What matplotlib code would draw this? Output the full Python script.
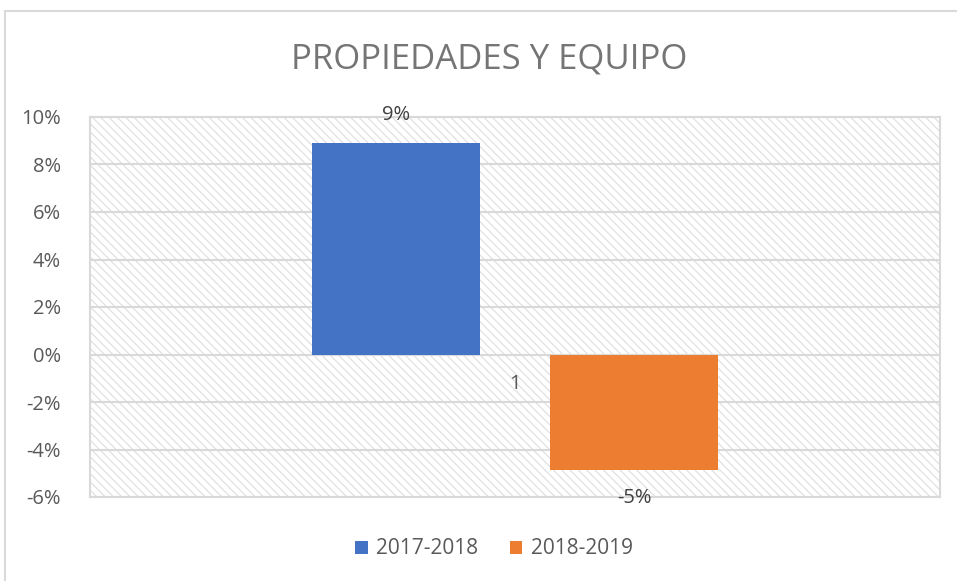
import matplotlib
matplotlib.use("Agg")
import matplotlib.pyplot as plt
from matplotlib.patches import Rectangle
from matplotlib.ticker import FuncFormatter, MultipleLocator

title = "PROPIEDADES Y EQUIPO"
category = "1"
series_names = ["2017-2018", "2018-2019"]
values = [0.089, -0.0487]
value_labels = ["9%", "-5%"]
colors = ["#4472C4", "#ED7D31"]

plt.rcParams['font.family'] = ['Open Sans', 'DejaVu Sans']
plt.rcParams['hatch.linewidth'] = 0.8
plt.rcParams['hatch.color'] = '#dedede'

fig = plt.figure(figsize=(9.57, 5.81), dpi=100)
# outer chart border
fig.patches.append(Rectangle((5/957, -0.01), 1.0, (581-11)/581 + 0.01, transform=fig.transFigure,
                             fill=False, edgecolor='#d9d9d9', linewidth=1.5))

ax = fig.add_axes([90/957, (581-497)/581, (940-90)/957, (497-117)/581])
ax.set_xlim(-1, 1)
ax.set_ylim(-0.06, 0.10)

# hatched background
bg = Rectangle((0, 0), 1, 1, transform=ax.transAxes, facecolor='white',
               edgecolor='#dedede', hatch='\\\\\\\\', linewidth=0, zorder=0)
ax.add_patch(bg)

ax.yaxis.set_major_locator(MultipleLocator(0.02))
ax.yaxis.set_major_formatter(FuncFormatter(lambda v, p: f"{round(v*100):.0f}%"))
ax.grid(axis='y', color='#d9d9d9', linewidth=1.5, zorder=1)
ax.set_axisbelow(True)
for s in ax.spines.values():
    s.set_color('#d9d9d9')
    s.set_linewidth(1.5)
ax.tick_params(axis='y', length=0, labelsize=14.5, labelcolor='#595959', pad=21)
ax.set_xticks([])

offsets = [-0.28, 0.28]
width = 0.393
for off, v, c, name, lab in zip(offsets, values, colors, series_names, value_labels):
    ax.bar(off, v, width=width, color=c, label=name, zorder=3)
    if v >= 0:
        ax.annotate(lab, (off, v), xytext=(0, 13), textcoords='offset points',
                    ha='center', va='bottom', fontsize=14.5, color='#404040')
    else:
        ax.annotate(lab, (off, v), xytext=(0, -13), textcoords='offset points',
                    ha='center', va='top', fontsize=14.5, color='#404040')

# category label at the zero line
ax.annotate(category, (0, 0), xytext=(0, -14), textcoords='offset points',
            ha='center', va='top', fontsize=14.5, color='#595959')

fig.text(489/957, 1 - 60/581, title, ha='center', va='center', fontsize=25,
         color='#757575')

leg = fig.legend(loc='center', bbox_to_anchor=(494/957, 1 - 549/581), ncol=2, frameon=False,
                 fontsize=15, handlelength=0.6, handleheight=0.6, handletextpad=0.4,
                 columnspacing=1.5)
for t in leg.get_texts():
    t.set_color('#595959')

fig.savefig("out.png", dpi=100)
